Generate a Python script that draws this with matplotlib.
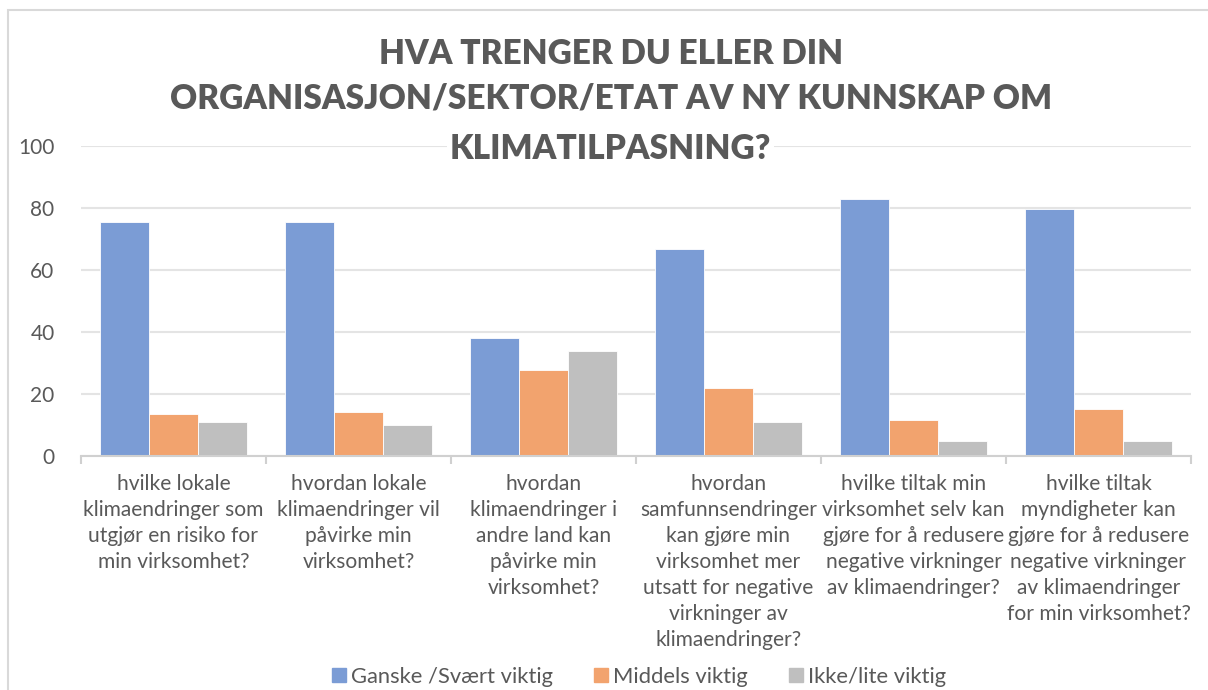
import numpy as np
import matplotlib
matplotlib.use("Agg")
import matplotlib.pyplot as plt
from matplotlib.patches import Rectangle
from matplotlib.lines import Line2D

plt.rcParams['font.family'] = ['Lato', 'DejaVu Sans']

# data
categories = [
    "hvilke lokale\nklimaendringer som\nutgjør en risiko for\nmin virksomhet?",
    "hvordan lokale\nklimaendringer vil\npåvirke min\nvirksomhet?",
    "hvordan\nklimaendringer i\nandre land kan\npåvirke min\nvirksomhet?",
    "hvordan\nsamfunnsendringer\nkan gjøre min\nvirksomhet mer\nutsatt for negative\nvirkninger av\nklimaendringer?",
    "hvilke tiltak min\nvirksomhet selv kan\ngjøre for å redusere\nnegative virkninger\nav klimaendringer?",
    "hvilke tiltak\nmyndigheter kan\ngjøre for å redusere\nnegative virkninger\nav klimaendringer\nfor min virksomhet?",
]
series_names = ["Ganske /Svært viktig", "Middels viktig", "Ikke/lite viktig"]
ganske = [75.3, 75.3, 38.0, 66.8, 82.9, 79.5]
middels = [13.4, 14.2, 27.7, 21.8, 11.6, 15.1]
ikke = [10.8, 9.9, 33.8, 10.8, 4.8, 4.8]
yticks = [0, 20, 40, 60, 80, 100]

colors = ['#7b9cd5', '#f2a36e', '#bfbfbf']
txtcol = '#595959'
gridcol = '#e4e4e4'

fig = plt.figure(figsize=(12.08, 6.90), dpi=100)
ax = fig.add_axes([81/1208, 1-455.7/690, 1110/1208, 310/690])

x = np.arange(len(categories))
w = 0.265
for i, vals in enumerate([ganske, middels, ikke]):
    ax.bar(x + (i-1)*w, vals, w, color=colors[i], edgecolor='white', linewidth=0.6, zorder=3)

ax.set_xlim(-0.5, len(categories)-0.5)
ax.set_ylim(0, 100)
ax.set_yticks(yticks)
ax.set_yticklabels([str(v) for v in yticks], fontsize=15, color=txtcol)
ax.tick_params(axis='y', length=0, pad=19)
ax.yaxis.grid(True, color=gridcol, linewidth=1.5, zorder=0)

# group boundary ticks, labels at centres
ax.set_xticks(np.arange(len(categories)+1) - 0.5)
ax.set_xticklabels([])
ax.tick_params(axis='x', which='major', length=6, color='#d0d0d0', width=1.5)
ax.set_xticks(x, minor=True)
ax.set_xticklabels(categories, minor=True, fontsize=15.1, color=txtcol, linespacing=1.38, va='top')
ax.tick_params(axis='x', which='minor', length=0, pad=13)

for s in ['top', 'right', 'left']:
    ax.spines[s].set_visible(False)
ax.spines['bottom'].set_color('#d0d0d0')
ax.spines['bottom'].set_linewidth(1.5)
ax.spines['bottom'].set_zorder(4)

tkw = dict(ha='center', va='center', fontsize=24, fontweight='heavy', color=txtcol)
fig.text(0.5055, 1-76/690, "HVA TRENGER DU ELLER DIN\nORGANISASJON/SEKTOR/ETAT AV NY KUNNSKAP OM",
         linespacing=1.48, **tkw)
fig.text(0.5055, 1-149/690, "KLIMATILPASNING?",
         bbox=dict(facecolor='white', edgecolor='none', pad=2), **tkw)

handles = [Line2D([], [], marker='s', linestyle='none', markersize=10,
                  markerfacecolor=c, markeredgecolor=c) for c in colors]
fig.legend(handles, series_names, loc='center', bbox_to_anchor=(0.528, 1-677/690),
           ncol=3, frameon=False, fontsize=15.8, labelcolor=txtcol,
           handletextpad=0.1, columnspacing=1.75, handlelength=0.9)

fig.patches.append(Rectangle((8/1208, -0.05), 1.1, 1-10/690+0.05, transform=fig.transFigure,
                             fill=False, edgecolor='#d9d9d9', linewidth=1.5))

fig.savefig('out.png', dpi=100)
